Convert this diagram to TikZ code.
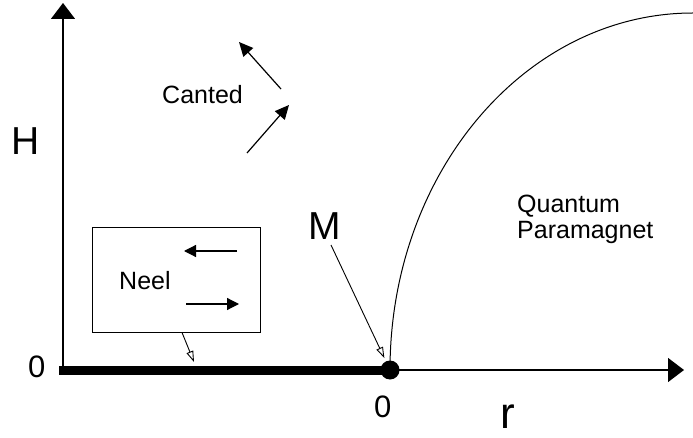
\documentclass[tikz,border=0pt]{standalone}
\usepackage{fontspec}
\setmainfont{Liberation Sans}
\usetikzlibrary{arrows.meta}
\begin{document}
\begin{tikzpicture}[x=1pt,y=-1pt,
  lbl/.style={inner sep=0pt, anchor=base west, font=\fontsize{25}{26}\selectfont},
  big/.style={inner sep=0pt, anchor=base west, font=\fontsize{39}{40}\selectfont},
  num/.style={inner sep=0pt, anchor=base west, font=\fontsize{31}{32}\selectfont},
  axis/.style={line width=1.3pt, -{Triangle[length=16pt,width=24pt]}},
  spin/.style={line width=1.2pt, -{Triangle[length=12pt,width=12pt]}},
  pointer/.style={line width=0.9pt, -{Triangle[open,length=11pt,width=7pt]}}
]
\useasboundingbox (0,0) rectangle (693,438);
% axes
\coordinate (O) at (63,370);
\coordinate (Ytop) at (63,3);
\coordinate (Xend) at (684,370);
\coordinate (Lend) at (59,370);
\coordinate (QCP) at (390,370);
\draw[axis] (O) -- (Ytop);
\draw[axis] (QCP) -- (Xend);
\draw[line width=9pt] (Lend) -- (QCP);
\draw[line width=1pt] (QCP) arc[start angle=180, end angle=90, x radius=303pt, y radius=357pt];
\node[circle, fill, inner sep=0pt, minimum size=19pt] (dot) at (QCP) {};
% labels
\node[big] (H) at (11,155) {H};
\node[num] (zeroL) at (28,377) {0};
\node[num] (zeroB) at (374,417) {0};
\node[inner sep=0pt, anchor=base west, font=\fontsize{44}{46}\selectfont] (r) at (500,428) {r};
\node[big] (M) at (308,240) {M};
\node[lbl] (canted) at (162,104) {Canted};
\node[lbl] (q1) at (517,213) {Quantum};
\node[lbl] (q2) at (517,239) {Paramagnet};
% Neel box
\node[draw, line width=1pt, minimum width=168pt, minimum height=104pt, inner sep=0pt] (neel) at (176,280) {};
\node[lbl] (neeltext) at (119,290) {Neel};
\coordinate (nl1) at (237,251); \coordinate (nl2) at (184,251);
\coordinate (nr1) at (186,304); \coordinate (nr2) at (239,304);
\draw[spin] (nl1) -- (nl2);
\draw[spin] (nr1) -- (nr2);
% canted spins
\coordinate (c1a) at (281,89); \coordinate (c1b) at (239,42);
\coordinate (c2a) at (247,153); \coordinate (c2b) at (289,105);
\draw[spin, -{Triangle[length=14pt,width=13pt]}] (c1a) -- (c1b);
\draw[spin, -{Triangle[length=14pt,width=13pt]}] (c2a) -- (c2b);
% pointers
\coordinate (np) at (194,362);
\draw[pointer] ([xshift=6pt]neel.south) -- (np);
\coordinate (mp) at (331,245);
\draw[pointer, shorten >=3.5pt] (mp) -- (dot);
\end{tikzpicture}
\end{document}
